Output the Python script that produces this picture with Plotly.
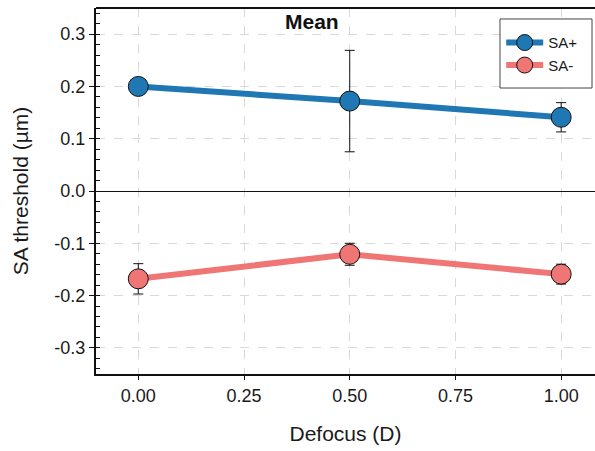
import plotly.graph_objects as go

defocus = [0.0, 0.5, 1.0]
sa_plus = [0.200, 0.172, 0.141]
sa_plus_err = [0.0, 0.097, 0.028]
sa_minus = [-0.168, -0.121, -0.159]
sa_minus_err = [0.029, 0.021, 0.019]

x_tickvals = [0.0, 0.25, 0.5, 0.75, 1.0]
x_ticktext = ["0.00", "0.25", "0.50", "0.75", "1.00"]
y_tickvals = [0.3, 0.2, 0.1, 0.0, -0.1, -0.2, -0.3]
y_ticktext = ["0.3", "0.2", "0.1", "0.0", "-0.1", "-0.2", "-0.3"]

BLUE = "#1f78b4"
RED = "#f07575"
FONT = "Liberation Sans, Arial, sans-serif"

fig = go.Figure()
for name, ys, err, col in [("SA+", sa_plus, sa_plus_err, BLUE),
                           ("SA-", sa_minus, sa_minus_err, RED)]:
    fig.add_trace(go.Scatter(
        x=defocus, y=ys, name=name, mode="lines+markers",
        line=dict(color=col, width=6),
        marker=dict(size=20, color=col, line=dict(color="#111111", width=1)),
        error_y=dict(type="data", array=err, visible=True, color="#111111",
                     thickness=1, width=5),
    ))

fig.update_layout(
    width=595, height=451,
    margin=dict(l=96, r=0, t=8, b=77),
    paper_bgcolor="white", plot_bgcolor="white",
    font=dict(family=FONT, size=14, color="#1a1a1a"),
    showlegend=True,
    legend=dict(x=0.812, y=0.95, xanchor="left", yanchor="top",
                borderwidth=0, bgcolor="rgba(0,0,0,0)",
                font=dict(size=15, family=FONT), itemwidth=37),
    annotations=[dict(text="<b>Mean</b>", x=0.433, y=1.0, xref="paper", yref="paper",
                      xanchor="center", yanchor="top", showarrow=False,
                      font=dict(size=21, family=FONT, color="#111111"), yshift=0)],
    shapes=[
        dict(type="line", xref="paper", yref="paper", x0=0, x1=1, y0=1, y1=1,
             line=dict(color="#111111", width=2)),
        dict(type="rect", xref="paper", yref="paper", x0=0.8096, x1=0.994,
             y0=0.7814, y1=0.970, fillcolor="white", layer="above",
             line=dict(color="#444444", width=1)),
    ],
)

fig.update_xaxes(
    range=[-0.1, 1.08], tickvals=x_tickvals, ticktext=x_ticktext,
    showline=True, linecolor="#111111", linewidth=2,
    ticks="outside", ticklen=4, tickcolor="#111111",
    showgrid=True, gridcolor="#d9d9d9", griddash="dash", gridwidth=1,
    zeroline=False, automargin=False,
    title=dict(text="Defocus (D)", font=dict(size=21, family=FONT, color="#1a1a1a"), standoff=22),
    tickfont=dict(size=18, color="#1a1a1a"),
)
fig.update_yaxes(
    range=[-0.35, 0.35], tickvals=y_tickvals, ticktext=y_ticktext,
    showline=True, linecolor="#111111", linewidth=2,
    ticks="outside", ticklen=5, tickcolor="#111111",
    minor=dict(ticks="inside", ticklen=4, tickcolor="#111111", dtick=0.02, showgrid=False),
    showgrid=True, gridcolor="#d9d9d9", griddash="dash", gridwidth=1,
    zeroline=True, zerolinecolor="#111111", zerolinewidth=1,
    automargin=False,
    title=dict(text="SA threshold (µm)", font=dict(size=21, family=FONT, color="#1a1a1a"), standoff=20),
    tickfont=dict(size=18, color="#1a1a1a"),
)

fig.write_html("out.html", config={"displayModeBar": False},
               post_script="document.body.style.margin='0';document.body.style.overflow='hidden';")
